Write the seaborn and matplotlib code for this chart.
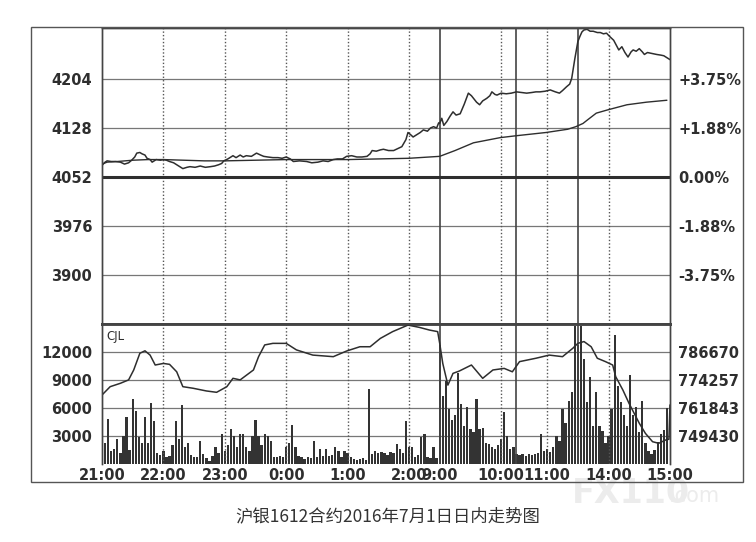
import matplotlib
matplotlib.use("Agg")
import matplotlib.pyplot as plt
import seaborn as sns

# time axis = trading minutes since 21:00
# (night 21:00-2:30, 9:00-10:15, 10:30-11:30, 13:30-15:00)
price_t = [0, 3, 5, 9, 13, 18, 22, 26, 29, 32,
           34, 37, 39, 42, 44, 47, 49, 51, 53, 57,
           60, 63, 66, 70, 73, 76, 79, 83, 86, 91,
           96, 101, 106, 110, 114, 117, 119, 123, 128, 131,
           135, 138, 141, 146, 151, 155, 158, 162, 167, 172,
           176, 180, 184, 187, 193, 200, 205, 211, 216, 221,
           226, 230, 235, 239, 244, 249, 254, 259, 262, 264,
           268, 272, 275, 280, 285, 289, 293, 297, 299, 302,
           304, 308, 311, 314, 318, 321, 324, 327, 329, 330,
           332, 334, 337, 340, 343, 346, 350, 354, 358, 361,
           363, 366, 369, 372, 376, 379, 381, 384, 386, 390,
           395, 400, 405, 410, 415, 420, 424, 428, 433, 438,
           443, 447, 450, 454, 457, 459, 462, 465, 467, 469,
           471, 474, 477, 480, 484, 487, 490, 493, 496, 500,
           503, 505, 508, 511, 514, 517, 519, 522, 525, 528,
           530, 533, 536, 539, 542, 546, 549, 552, 555]
price = [4070, 4075, 4077, 4076, 4076, 4075, 4072, 4074, 4078, 4083,
         4089, 4090, 4088, 4086, 4081, 4079, 4075, 4077, 4079, 4078,
         4079, 4078, 4076, 4074, 4071, 4068, 4065, 4067, 4068, 4067,
         4069, 4067, 4068, 4069, 4071, 4073, 4077, 4080, 4085, 4082,
         4086, 4083, 4085, 4084, 4089, 4086, 4084, 4083, 4082, 4082,
         4081, 4083, 4080, 4076, 4077, 4076, 4074, 4075, 4077, 4076,
         4079, 4080, 4080, 4084, 4085, 4083, 4083, 4084, 4088, 4093,
         4092, 4094, 4095, 4093, 4093, 4096, 4099, 4110, 4121, 4117,
         4114, 4118, 4121, 4125, 4123, 4128, 4130, 4128, 4136, 4135,
         4143, 4132, 4138, 4146, 4153, 4148, 4150, 4165, 4182, 4178,
         4174, 4168, 4164, 4170, 4174, 4178, 4184, 4180, 4179, 4182,
         4181, 4182, 4184, 4183, 4182, 4183, 4184, 4184, 4185, 4187,
         4184, 4182, 4186, 4192, 4196, 4205, 4235, 4262, 4270, 4277,
         4280, 4281, 4278, 4278, 4276, 4276, 4274, 4275, 4270, 4264,
         4255, 4249, 4254, 4245, 4238, 4246, 4249, 4247, 4251, 4246,
         4242, 4245, 4244, 4243, 4242, 4241, 4240, 4237, 4234]

avg_t = [0, 5, 15, 30, 45, 60, 80, 100, 120, 150,
         180, 210, 240, 270, 300, 330, 345, 363, 389, 405,
         434, 455, 463, 470, 474, 483, 494, 513, 532, 552]
avg_price = [4072, 4075, 4076, 4078, 4079, 4079, 4078, 4077, 4077, 4078,
             4079, 4079, 4079, 4080, 4081, 4084, 4093, 4105, 4113, 4116,
             4121, 4126, 4130, 4135, 4140, 4151, 4156, 4164, 4168, 4171]

# volume per 3 minutes
vol_t = list(range(0, 555, 3))
volume = [2500, 2300, 4800, 1400, 1600, 2700, 1200, 3000, 5000, 1500,
          7000, 5700, 2900, 2300, 5000, 2300, 6500, 4600, 1200, 1000,
          1400, 700, 900, 2000, 4600, 2700, 6300, 1800, 2200, 1000,
          700, 800, 2500, 1100, 600, 300, 900, 1800, 1200, 3200,
          1400, 2000, 3800, 3000, 1800, 3200, 3200, 1800, 1400, 3000,
          4700, 3000, 2000, 3200, 3000, 2500, 800, 700, 900, 800,
          1800, 2200, 4200, 1800, 900, 700, 500, 700, 600, 2500,
          700, 1600, 900, 1600, 900, 1000, 1800, 1400, 700, 1400,
          1200, 700, 500, 400, 500, 600, 400, 8000, 1100, 1400,
          1200, 1300, 1200, 1000, 1300, 1200, 2100, 1600, 1200, 4600,
          1800, 1800, 700, 1000, 2900, 3200, 700, 600, 1800, 600,
          12700, 7300, 8900, 5900, 4700, 5200, 9700, 6400, 4100, 6100,
          3800, 3400, 7000, 3800, 3900, 2300, 2100, 1800, 1600, 2000,
          2700, 5600, 3000, 1600, 1800, 1100, 1000, 1100, 900, 1100,
          1000, 1100, 1200, 3200, 1400, 1600, 1300, 1800, 3000, 2500,
          5900, 4400, 6800, 7700, 14800, 12700, 14800, 11300, 6600, 9300,
          4100, 7700, 4100, 3500, 2300, 3000, 5900, 13800, 8400, 6600,
          5200, 4100, 9500, 5200, 6100, 3400, 6700, 2300, 1400, 1100,
          1500, 2400, 3200, 3600, 6000]

# open interest line (right scale of the CJL panel)
oi_t = [0, 8, 18, 26, 31, 37, 42, 47, 52, 60,
        66, 73, 79, 89, 102, 112, 122, 128, 135, 148,
        153, 159, 167, 180, 190, 206, 226, 239, 252, 262,
        272, 284, 299, 310, 320, 328, 330, 333, 338, 343,
        349, 361, 372, 382, 393, 401, 408, 424, 437, 450,
        460, 465, 471, 478, 484, 492, 499, 502, 509, 515,
        525, 531, 538, 544, 551, 554, 555]
open_interest = [767600, 771300, 772800, 774300, 778700, 786100, 787200, 785300, 780900, 781600,
                 781200, 777900, 771300, 770600, 769400, 768800, 771300, 775000, 774300, 778700,
                 784600, 789800, 790500, 790500, 787600, 785300, 784600, 787100, 789000, 789000,
                 792700, 795700, 798600, 797600, 796400, 795700, 790500, 781600, 772000, 777200,
                 778200, 780900, 775000, 778700, 779400, 777900, 782400, 783900, 785300, 784600,
                 788300, 790500, 791300, 789000, 783900, 782400, 780900, 775700, 769800, 763900,
                 755100, 750600, 746900, 746200, 747700, 748000, 763200]

time_ticks = [0, 60, 120, 180, 240, 300, 330, 390, 435, 495, 555]
time_labels = ["21:00", "22:00", "23:00", "0:00", "1:00", "2:00", "9:00",
               "10:00", "11:00", "14:00", "15:00"]
price_ticks = [3900, 3976, 4052, 4128, 4204]
pct_labels = ["-3.75%", "-1.88%", "0.00%", "+1.88%", "+3.75%"]
vol_ticks = [3000, 6000, 9000, 12000]
oi_ticks = [749430, 761843, 774257, 786670]
session_breaks = [330, 405, 465]
hour_marks = [60, 120, 180, 240, 300, 390, 435, 495]

sns.set_theme(style="white")
plt.rcParams['font.family'] = ['DejaVu Sans', 'Noto Sans CJK SC']
ink = '#2e2e2e'

fig = plt.figure(figsize=(7.56, 5.42), dpi=100)
fig.patch.set_facecolor('white')
ax = fig.add_axes([0.1349, 0.4022, 0.7513, 0.5461])
axv = fig.add_axes([0.1349, 0.1439, 0.7513, 0.2583])

# price panel
sns.lineplot(x=price_t, y=price, ax=ax, color=ink, lw=1.1)
sns.lineplot(x=avg_t, y=avg_price, ax=ax, color=ink, lw=1.0)
ax.set_xlim(0, 555)
ax.set_ylim(3824, 4283)
ax.set_yticks(price_ticks)
ax.set_yticklabels([str(p) for p in price_ticks], fontweight='bold', fontsize=10.5, color=ink)
ax.set_xticks([])
ax.grid(axis='y', color='#777777', lw=0.9)
ax.axhline(4052, color=ink, lw=2.2)
ax.tick_params(axis='y', length=0, pad=7)

axp = ax.twinx()
axp.set_ylim(ax.get_ylim())
axp.set_yticks(price_ticks)
axp.set_yticklabels(pct_labels, fontweight='bold', fontsize=10.5, color=ink)
axp.tick_params(axis='y', length=0, pad=6)

# volume panel
sns.barplot(x=vol_t, y=volume, ax=axv, native_scale=True, color='#333333',
            width=0.75, errorbar=None, linewidth=0, saturation=1)
axv.set_xlim(0, 555)
axv.set_ylim(0, 15000)
axv.set_yticks(vol_ticks)
axv.set_yticklabels([str(v) for v in vol_ticks], fontweight='bold', fontsize=10.5, color=ink)
axv.set_xticks(time_ticks)
axv.set_xticklabels(time_labels, fontweight='bold', fontsize=10.5, color=ink)
axv.grid(axis='y', color='#777777', lw=0.9)
axv.set_axisbelow(True)
axv.tick_params(length=0)
axv.tick_params(axis='y', pad=7)
axv.tick_params(axis='x', pad=3)
axv.text(0.008, 0.955, "CJL", transform=axv.transAxes, ha='left', va='top',
         fontsize=8.5, color=ink)

axo = axv.twinx()
sns.lineplot(x=oi_t, y=open_interest, ax=axo, color=ink, lw=1.1)
axo.set_ylim(737017, 799079)
axo.set_yticks(oi_ticks)
axo.set_yticklabels([str(v) for v in oi_ticks], fontweight='bold', fontsize=10.5, color=ink)
axo.tick_params(axis='y', length=0, pad=6)

for a in (ax, axv):
    a.set_xlabel("")
    a.set_ylabel("")
    for t in hour_marks:
        a.axvline(t, color='#555555', lw=1.0, ls=(0, (1, 1.5)), zorder=1)
    for t in session_breaks:
        a.axvline(t, color='#444444', lw=1.2, zorder=1)
for a in (axp, axo):
    a.set_ylabel("")
    a.grid(False)

for a in (ax, axp, axv, axo):
    for s in a.spines.values():
        s.set_color('#444444')
        s.set_linewidth(1.0)
ax.spines['bottom'].set_linewidth(2.0)
axv.spines['top'].set_linewidth(2.0)
axv.spines['bottom'].set_visible(False)
axo.spines['bottom'].set_visible(False)

# outer frame
fig.add_artist(plt.Rectangle((0.041, 0.1107), 0.9418, 0.8395, transform=fig.transFigure,
                             fill=False, lw=1.0, ec='#555555'))

fig.text(0.513, 0.048, "沪银1612合约2016年7月1日日内走势图", ha='center', va='center',
         fontsize=12.5, color='#333333', family=['Noto Sans CJK SC', 'DejaVu Sans'])
# faint watermark, kept beneath the axes and their labels
fig.text(0.757, 0.09, "FX110", ha='left', va='center', fontsize=24, fontweight='bold',
         color='#ececec', zorder=-1)
fig.text(0.885, 0.085, ".com", ha='left', va='center', fontsize=15, color='#ececec', zorder=-1)

fig.savefig("out.png", dpi=100)
